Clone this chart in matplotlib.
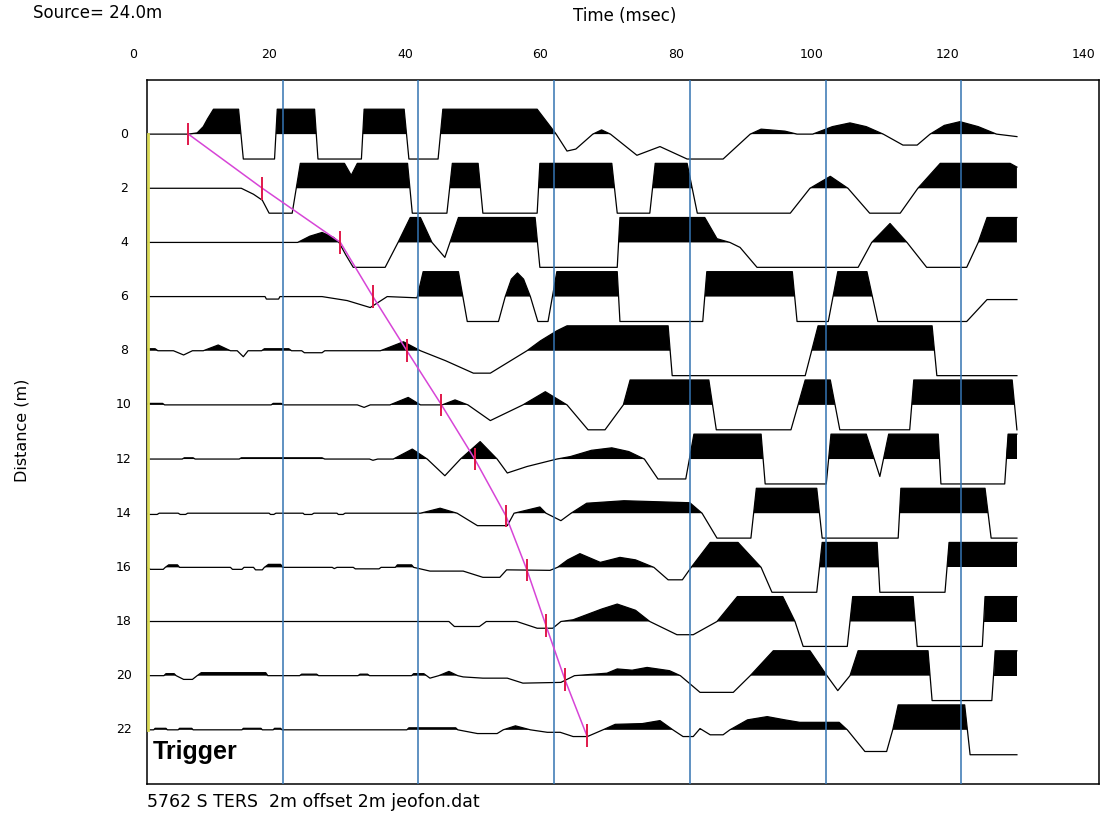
import matplotlib.pyplot as plt
from matplotlib import transforms

# === Seismic record: one trace per geophone (time in msec, clipped amplitude) ===
distances = [0, 2, 4, 6, 8, 10, 12, 14, 16, 18, 20, 22]

t00 = [2.0, 8.1, 9.4, 10.3, 10.9, 11.8, 15.5, 16.2, 20.8, 21.2, 26.7, 27.2, 33.6, 34.0, 39.9, 40.6,
       44.9, 45.6, 59.5, 62.3, 63.9, 65.2, 67.7, 69.0, 70.3, 74.2, 77.6, 81.6, 86.9, 90.9, 92.5,
       96.0, 97.8, 100.1, 103.0, 105.6, 108.0, 110.5, 113.4, 115.5, 117.4, 119.5, 121.8, 124.5,
       127.2, 130.2]
a00 = [0, 0, 0.05, 0.3, 0.6, 1, 1, -1, -1, 1, 1, -1, -1, 1, 1, -1,
       -1, 1, 1, 0, -0.68, -0.6, 0, 0.17, 0, -0.85, -0.5, -1, -1, 0, 0.2,
       0.12, 0, 0, 0.3, 0.45, 0.3, 0, -0.44, -0.44, 0, 0.35, 0.5, 0.3,
       0, -0.1]

t02 = [2.0, 15.9, 17.7, 19.0, 20.0, 23.4, 24.6, 31.1, 32.1, 33.0, 40.4, 41.1, 46.2, 47.0, 50.8,
       51.5, 59.5, 59.9, 70.5, 71.3, 76.1, 76.9, 81.6, 83.1, 96.8, 99.7, 102.7, 105.3, 108.5,
       113.0, 115.6, 118.9, 129.2, 130.2]
a02 = [0, 0, -0.24, -0.48, -1, -1, 1, 1, 0.52, 1, 1, -1, -1, 1, 1,
       -1, -1, 1, 1, -1, -1, 1, 1, -1, -1, 0, 0.48, 0, -1,
       -1, 0, 1, 1, 0.85]

t04 = [2.0, 24.2, 26.0, 27.8, 29.5, 30.3, 31.3, 32.4, 37.1, 39.0, 40.8, 42.3, 44.0, 45.9, 47.9,
       59.2, 59.9, 71.3, 71.7, 84.2, 86.0, 87.9, 89.4, 91.9, 106.8, 108.8, 111.5, 114.0, 116.9,
       122.8, 124.5, 125.8, 130.2]
a04 = [0, 0, 0.25, 0.4, 0.2, 0, -0.5, -1, -1, 0, 1, 1, 0, -0.6, 1,
       1, -1, -1, 1, 1, 0.15, 0, -0.2, -1, -1, 0, 0.76, 0, -1,
       -1, 0, 1, 1]

t06 = [2.0, 19.4, 19.6, 21.4, 21.6, 27.8, 31.5, 34.9, 37.4, 41.8, 42.7, 47.9, 49.2, 53.8, 54.8,
       55.7, 56.6, 57.5, 58.5, 59.6, 61.1, 62.4, 71.3, 71.7, 83.9, 84.5, 97.1, 97.8, 102.4, 103.8,
       108.1, 109.7, 122.8, 125.8, 130.2]
a06 = [0, 0, -0.1, -0.1, 0, 0, -0.16, -0.44, 0, -0.05, 1, 1, -1, -1, 0,
       0.7, 0.95, 0.7, 0, -1, -1, 1, 1, -1, -1, 1, 1, -1, -1, 1,
       1, -1, -1, -0.12, -0.12]

t08 = [2.0, 3.2, 3.6, 5.9, 7.4, 8.7, 10.3, 12.5, 14.3, 15.3, 16.2, 16.9, 18.9, 19.3, 22.9, 23.3,
       24.8, 25.2, 27.8, 28.2, 36.4, 39.8, 42.3, 46.0, 50.1, 52.6, 58.0, 60.0, 62.4, 63.9, 78.8,
       79.4, 99.0, 100.9, 117.7, 118.4, 130.2]
a08 = [0.08, 0.08, 0, 0, -0.17, 0, 0, 0.23, 0, 0, -0.24, 0, 0, 0.08, 0.08, 0,
       0, -0.08, -0.08, 0, 0, 0.36, 0, -0.4, -0.9, -0.9, 0, 0.4, 0.8, 1, 1,
       -1, -1, 1, 1, -1, -1]

t10 = [2.0, 4.3, 4.6, 20.3, 20.6, 21.8, 22.1, 33.0, 34.0, 34.9, 37.8, 40.5, 42.3, 45.5, 47.4,
       49.3, 52.6, 57.4, 60.7, 63.9, 67.0, 69.5, 72.2, 73.2, 84.8, 85.9, 96.9, 99.0, 102.7, 104.1,
       114.4, 115.0, 129.5, 130.2]
a10 = [0.06, 0.06, 0, 0, 0.06, 0.06, 0, 0, -0.1, 0, 0, 0.3, 0, 0, 0.2,
       0, -0.63, 0, 0.53, 0, -1, -1, 0, 1, 1, -1, -1, 1, 1, -1,
       -1, 1, 1, -1]

t12 = [2.0, 7.2, 7.5, 8.8, 9.1, 15.6, 15.9, 27.8, 28.2, 34.8, 35.3, 36.0, 38.3, 41.1, 43.3,
       45.9, 48.2, 51.1, 53.6, 55.1, 58.0, 62.4, 64.4, 67.5, 70.5, 73.0, 75.3, 77.3, 81.4, 82.6,
       92.5, 93.1, 102.1, 102.8, 108.0, 110.0, 111.3, 118.6, 119.0, 128.4, 128.9, 130.2]
a12 = [0, 0, 0.05, 0.05, 0, 0, 0.05, 0.05, 0, 0, -0.05, 0, 0, 0.4, 0,
       -0.67, 0, 0.7, 0, -0.56, -0.3, 0, 0.1, 0.35, 0.45, 0.3, 0, -0.8, -0.8, 1,
       1, -1, -1, 1, 1, -0.7, 1, 1, -1, -1, 1, 1]

t14 = [2.0, 2.3, 3.5, 3.8, 6.6, 6.9, 7.7, 8.0, 20.0, 20.2, 20.7, 21.0, 25.0, 25.2, 26.3, 26.6,
       30.0, 30.2, 30.9, 31.2, 42.3, 45.2, 47.7, 50.7, 55.1, 56.1, 59.9, 60.8, 63.0, 64.5, 66.8,
       72.3, 82.0, 83.8, 86.0, 91.0, 91.8, 100.7, 101.5, 112.7, 113.1, 125.5, 126.4, 130.2]
a14 = [0, -0.05, -0.05, 0, 0, -0.05, -0.05, 0, 0, -0.05, -0.05, 0, 0, -0.05, -0.05, 0,
       0, -0.05, -0.05, 0, 0, 0.2, 0, -0.5, -0.5, 0, 0.25, 0, -0.3, 0, 0.4,
       0.5, 0.42, 0, -1, -1, 1, 1, -1, -1, 1, 1, -1, -1]

t16 = [2.0, 2.5, 4.4, 4.7, 5.2, 6.5, 6.8, 14.3, 14.6, 16.0, 16.3, 17.7, 18.0, 19.0, 19.3, 19.9,
       21.7, 22.0, 29.3, 29.6, 30.0, 32.4, 32.7, 36.2, 36.5, 38.6, 38.9, 41.0, 41.3, 43.7, 48.6,
       51.5, 54.0, 55.0, 61.4, 62.5, 64.0, 65.8, 68.8, 71.7, 74.0, 76.7, 78.8, 80.9, 82.2, 85.0,
       89.1, 92.5, 94.1, 100.7, 101.5, 109.6, 110.0, 119.6, 120.2, 130.2]
a16 = [0, -0.08, -0.08, 0, 0.1, 0.1, 0, 0, -0.08, -0.08, 0, 0, -0.1, -0.1, 0, 0.12,
       0.12, 0, 0, -0.05, 0, 0, -0.06, -0.06, 0, 0, 0.1, 0.1, 0, -0.15, -0.15,
       -0.4, -0.4, -0.1, -0.12, 0, 0.3, 0.55, 0.2, 0.4, 0.3, 0, -0.5, -0.5, 0, 1,
       1, 0, -1, -1, 1, 1, -1, -1, 1, 1]

t18 = [2.0, 46.5, 47.3, 51.0, 52.0, 56.5, 59.5, 61.8, 63.0, 64.8, 69.0, 71.3, 74.0, 76.1, 80.1,
       82.5, 86.0, 89.0, 95.7, 97.5, 98.7, 105.2, 106.0, 114.9, 115.5, 125.1, 125.5, 130.2]
a18 = [0, 0, -0.2, -0.2, 0, 0, -0.27, -0.27, 0, 0.07, 0.5, 0.7, 0.45, 0, -0.53,
       -0.53, 0, 1, 1, 0, -1, -1, 1, 1, -1, -1, 1, 1]

t20 = [2.0, 4.5, 4.8, 6.0, 6.3, 7.4, 8.7, 9.4, 10.0, 19.5, 19.8, 24.5, 24.8, 27.0, 27.3, 33.1,
       33.4, 34.5, 34.8, 41.0, 41.3, 42.8, 43.7, 45.0, 46.5, 47.8, 48.6, 51.5, 55.1, 57.4, 63.0,
       65.0, 69.8, 71.3, 73.5, 75.7, 79.0, 80.6, 83.5, 88.4, 90.9, 94.3, 99.7, 102.2, 103.8,
       105.6, 106.8, 117.1, 117.7, 126.5, 127.0, 130.2]
a20 = [0, 0, 0.08, 0.08, 0, -0.15, -0.15, 0, 0.12, 0.12, 0, 0, 0.06, 0.06, 0, 0,
       0.06, 0.06, 0, 0, 0.08, 0.08, -0.1, 0, 0.17, 0, -0.05, -0.1, -0.1, -0.3, -0.27,
       0, 0.1, 0.27, 0.22, 0.33, 0.2, 0, -0.67, -0.67, 0, 1, 1, 0, -0.6,
       0, 1, 1, -1, -1, 1, 1]

t22 = [2.0, 3.0, 3.2, 4.8, 5.0, 6.6, 6.8, 8.6, 8.8, 16.0, 16.2, 18.8, 19.0, 20.6, 20.8, 21.7,
       21.9, 40.3, 40.6, 47.5, 47.8, 50.7, 53.6, 54.5, 56.3, 58.5, 61.0, 62.9, 64.8, 66.9, 69.2,
       71.0, 75.0, 77.6, 79.5, 81.0, 82.5, 83.5, 85.0, 86.9, 87.9, 90.5, 93.4, 96.0, 98.2, 104.0,
       105.2, 107.8, 111.0, 111.9, 112.7, 122.5, 123.3, 130.2]
a22 = [0, 0, 0.06, 0.06, 0, 0, 0.06, 0.06, 0, 0, 0.06, 0.06, 0, 0, 0.06, 0.06,
       0, 0, 0.08, 0.08, 0, -0.15, -0.15, 0, 0.16, 0, -0.1, -0.1, -0.27, -0.27, 0,
       0.22, 0.25, 0.37, 0, -0.27, -0.27, 0.05, -0.2, -0.2, 0, 0.4, 0.53, 0.4, 0.3, 0.3,
       0, -0.87, -0.87, 0, 1, 1, -1, -1]

# first-break picks
pick_t = [8.1, 19.0, 30.5, 35.3, 40.3, 45.4, 50.3, 54.9, 58.0, 60.8, 63.6, 66.8]
pick_d = [0, 2, 4, 6, 8, 10, 12, 14.1, 16.1, 18.15, 20.15, 22.2]

grid_t = [22, 42, 62, 82, 102, 122]
time_labels = [0, 20, 40, 60, 80, 100, 120, 140]

traces = [(distances[0], t00, a00), (distances[1], t02, a02), (distances[2], t04, a04),
          (distances[3], t06, a06), (distances[4], t08, a08), (distances[5], t10, a10),
          (distances[6], t12, a12), (distances[7], t14, a14), (distances[8], t16, a16),
          (distances[9], t18, a18), (distances[10], t20, a20), (distances[11], t22, a22)]

SCALE = 0.92  # clip height in metres

fig = plt.figure(figsize=(11.05, 8.21), dpi=100)
ax = fig.add_axes([0.1330, 0.0451, 0.8616, 0.8575])
ax.set_xlim(2.0, 142.3)
ax.set_ylim(24, -2)
ax.set_xticks([])
ax.set_yticks([])
for s in ax.spines.values():
    s.set_linewidth(1.1)

# === Wiggle traces with positive fill ===
for d, t, a in traces:
    y = [d - SCALE * v for v in a]
    ax.fill_between(t, d, y, where=[v >= 0 for v in a], interpolate=True,
                    color='black', lw=0, zorder=2)
    ax.plot(t, y, color='black', lw=0.9, zorder=2)

for g in grid_t:
    ax.axvline(g, color='#3474b2', lw=1.1, zorder=3)

ax.plot([2.2, 2.2], [distances[0], distances[-1]], color='#d9d955', lw=2.0, zorder=3)

# === Picks ===
ax.plot(pick_t, pick_d, color='#d745d7', lw=1.1, zorder=4)
ax.vlines(pick_t, [p - 0.42 for p in pick_d], [p + 0.42 for p in pick_d],
          color='#e0184a', lw=1.4, zorder=5)

# === Labels ===
tx = transforms.blended_transform_factory(ax.transData, fig.transFigure)
for v in time_labels:
    ax.text(v, 1 - 54 / 821, str(v), transform=tx, ha='center', va='center',
            fontsize=9, clip_on=False)

ty = transforms.blended_transform_factory(fig.transFigure, ax.transData)
for d in distances:
    ax.text(124 / 1105, d, str(d), transform=ty, ha='center', va='center',
            fontsize=9, clip_on=False)

fig.text(0.030, 0.984, 'Source= 24.0m', fontsize=12, va='center')
fig.text(0.565, 0.980, 'Time (msec)', fontsize=12, ha='center', va='center')
fig.text(0.020, 0.476, 'Distance (m)', fontsize=11.5, rotation=90, ha='center', va='center')
fig.text(0.133, 0.023, '5762 S TERS  2m offset 2m jeofon.dat', fontsize=12.5, va='center')

ttr = transforms.blended_transform_factory(ax.transAxes, ax.transData)
ax.text(0.0063, 23.07, 'Trigger', transform=ttr, fontsize=18, fontweight='bold',
        family='Liberation Sans', va='baseline', ha='left')

plt.savefig('out.png', dpi=100)
